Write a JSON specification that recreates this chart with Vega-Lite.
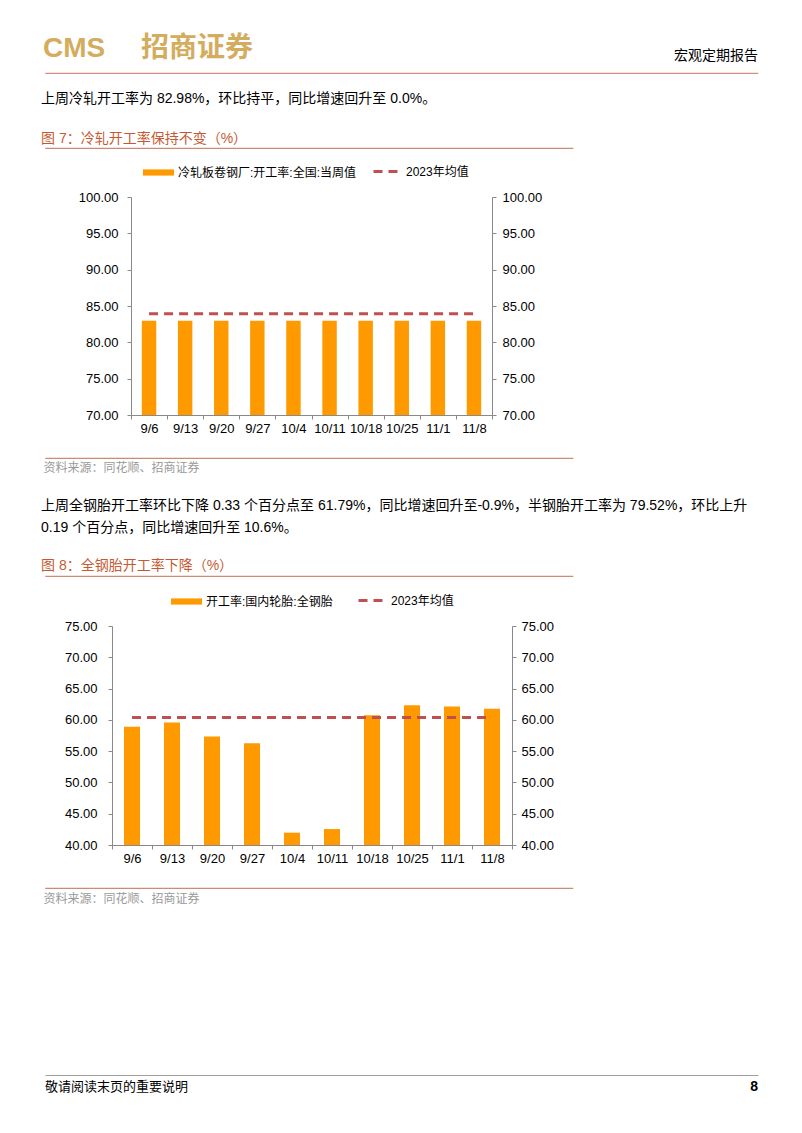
{
  "$schema": "https://vega.github.io/schema/vega-lite/v6.json",
  "background": "white",
  "padding": {"left": 40, "top": 34, "right": 0, "bottom": 0},
  "spacing": 16,
  "config": {
    "font": "'Liberation Sans', 'Noto Sans CJK SC', sans-serif",
    "view": {"stroke": null},
    "axis": {"grid": false, "labelColor": "#000000", "labelFontSize": 13, "domainColor": "#898989", "tickColor": "#898989", "tickSize": 4, "titleFontWeight": "normal"},
    "legend": {"labelFontSize": 12, "labelColor": "#000000", "padding": 0, "labelLimit": 0}
  },
  "resolve": {"scale": {"color": "independent", "strokeDash": "independent"}, "legend": {"color": "independent", "strokeDash": "independent"}},
  "vconcat": [
    {
      "width": 713,
      "height": 1,
      "view": {"stroke": "#DC8A80", "strokeWidth": 1.2, "strokeDash": [713, 100000]},
      "data": {"values": [{"t": "宏观定期报告"}]},
      "title": {"text": "CMS\u3000  招商证券", "anchor": "start", "dx": -2, "dy": 14, "offset": 0, "fontSize": 28, "fontWeight": "bold", "color": "#D4AC5E"},
      "mark": {"type": "text", "align": "right", "baseline": "bottom", "dy": -10, "fontSize": 14, "color": "#000000"},
      "encoding": {
        "text": {"field": "t", "type": "nominal"},
        "x": {"value": "width"},
        "y": {"value": 0}
      }
    },
    {
      "spacing": 24,
      "resolve": {"scale": {"color": "independent", "strokeDash": "independent"}, "legend": {"color": "independent", "strokeDash": "independent"}},
      "vconcat": [
        {
          "width": 528,
          "height": 310,
          "view": {"stroke": "#CF8A72", "strokeWidth": 1.2, "strokeDash": [528, 310]},
          "data": {"values": [
            {"d": "9/6", "v": 82.98, "avg": 83.94},
            {"d": "9/13", "v": 82.98, "avg": 83.94},
            {"d": "9/20", "v": 82.98, "avg": 83.94},
            {"d": "9/27", "v": 82.98, "avg": 83.94},
            {"d": "10/4", "v": 82.98, "avg": 83.94},
            {"d": "10/11", "v": 82.98, "avg": 83.94},
            {"d": "10/18", "v": 82.98, "avg": 83.94},
            {"d": "10/25", "v": 82.98, "avg": 83.94},
            {"d": "11/1", "v": 82.98, "avg": 83.94},
            {"d": "11/8", "v": 82.98, "avg": 83.94}
          ]},
          "title": {"text": "上周冷轧开工率为 82.98%，环比持平，同比增速回升至 0.0%。", "subtitle": "图 7：冷轧开工率保持不变（%）", "anchor": "start", "dx": -2, "offset": 2, "fontSize": 14, "fontWeight": "normal", "color": "#000000", "subtitleFontSize": 14, "subtitleColor": "#C55A32", "subtitlePadding": 26},
          "layer": [
            {
              "mark": {"type": "bar", "width": {"band": 0.4}, "color": "#FF9900"},
              "encoding": {
                "x": {"field": "d", "type": "nominal", "sort": null, "scale": {"range": [86, 447], "paddingInner": 0, "paddingOuter": 0},
                  "axis": {"orient": "bottom", "offset": -43, "labelAngle": 0, "tickBand": "extent", "labelPadding": 3,
                    "title": "资料来源：同花顺、招商证券", "titleX": -2, "titleY": 47, "titleAlign": "left", "titleBaseline": "top", "titleFontSize": 12, "titleColor": "#9A9A9A", "titleFontWeight": "normal"}},
                "y": {"field": "v", "type": "quantitative", "scale": {"domain": [70, 100], "range": [267, 49], "zero": false, "nice": false},
                  "axis": {"orient": "left", "offset": -86, "values": [70, 75, 80, 85, 90, 95, 100], "format": ".2f", "title": null, "labelPadding": 9}},
                "y2": {"datum": 70},
                "color": {"datum": "冷轧板卷钢厂:开工率:全国:当周值", "type": "nominal", "scale": {"range": ["#FF9900"]},
                  "legend": {"orient": "none", "legendX": 98, "legendY": 9, "title": null, "direction": "horizontal", "symbolType": "M-1,-0.2H1V0.2H-1Z", "symbolSize": 961, "symbolStrokeWidth": 0, "labelOffset": 4}}
              }
            },
            {
              "mark": {"type": "line", "color": "#C0504D", "strokeWidth": 3},
              "encoding": {
                "x": {"field": "d", "type": "nominal", "sort": null},
                "y": {"field": "avg", "type": "quantitative", "scale": {"domain": [70, 100], "range": [267, 49], "zero": false, "nice": false},
                  "axis": {"orient": "right", "offset": -81, "values": [70, 75, 80, 85, 90, 95, 100], "format": ".2f", "title": null, "labelPadding": 6}},
                "strokeDash": {"datum": "2023年均值", "type": "nominal", "scale": {"range": [[9, 6]]},
                  "legend": {"orient": "none", "legendX": 327, "legendY": 9, "title": null, "direction": "horizontal", "symbolType": "stroke", "symbolSize": 676, "symbolStrokeWidth": 3, "symbolStrokeColor": "#C0504D", "labelOffset": 5}}
              }
            }
          ],
          "resolve": {"scale": {"y": "independent"}}
        },
        {
          "width": 528,
          "height": 312,
          "view": {"stroke": "#CF8A72", "strokeWidth": 1.2, "strokeDash": [528, 312]},
          "data": {"values": [
            {"d": "9/6", "v": 58.88, "avg": 60.37},
            {"d": "9/13", "v": 59.57, "avg": 60.37},
            {"d": "9/20", "v": 57.34, "avg": 60.37},
            {"d": "9/27", "v": 56.28, "avg": 60.37},
            {"d": "10/4", "v": 41.97, "avg": 60.37},
            {"d": "10/11", "v": 42.55, "avg": 60.37},
            {"d": "10/18", "v": 60.74, "avg": 60.37},
            {"d": "10/25", "v": 62.34, "avg": 60.37},
            {"d": "11/1", "v": 62.12, "avg": 60.37},
            {"d": "11/8", "v": 61.79, "avg": 60.37}
          ]},
          "title": {"text": ["上周全钢胎开工率环比下降 0.33 个百分点至 61.79%，同比增速回升至-0.9%，半钢胎开工率为 79.52%，环比上升", "0.19 个百分点，同比增速回升至 10.6%。"], "subtitle": "图 8：全钢胎开工率下降（%）", "anchor": "start", "dx": -2, "offset": 3, "fontSize": 14, "fontWeight": "normal", "color": "#000000", "lineHeight": 22, "subtitleFontSize": 14, "subtitleColor": "#C55A32", "subtitlePadding": 24},
          "layer": [
            {
              "mark": {"type": "bar", "width": {"band": 0.4}, "color": "#FF9900"},
              "encoding": {
                "x": {"field": "d", "type": "nominal", "sort": null, "scale": {"range": [67, 467], "paddingInner": 0, "paddingOuter": 0},
                  "axis": {"orient": "bottom", "offset": -43, "labelAngle": 0, "tickBand": "extent", "labelPadding": 3,
                    "title": "资料来源：同花顺、招商证券", "titleX": -2, "titleY": 48, "titleAlign": "left", "titleBaseline": "top", "titleFontSize": 12, "titleColor": "#9A9A9A", "titleFontWeight": "normal"}},
                "y": {"field": "v", "type": "quantitative", "scale": {"domain": [40, 75], "range": [269, 50], "zero": false, "nice": false},
                  "axis": {"orient": "left", "offset": -67, "values": [40, 45, 50, 55, 60, 65, 70, 75], "format": ".2f", "title": null, "labelPadding": 11}},
                "y2": {"datum": 40},
                "color": {"datum": "开工率:国内轮胎:全钢胎", "type": "nominal", "scale": {"range": ["#FF9900"]},
                  "legend": {"orient": "none", "legendX": 126, "legendY": 10, "title": null, "direction": "horizontal", "symbolType": "M-1,-0.2H1V0.2H-1Z", "symbolSize": 961, "symbolStrokeWidth": 0, "labelOffset": 4}}
              }
            },
            {
              "mark": {"type": "line", "color": "#C0504D", "strokeWidth": 3},
              "encoding": {
                "x": {"field": "d", "type": "nominal", "sort": null},
                "y": {"field": "avg", "type": "quantitative", "scale": {"domain": [40, 75], "range": [269, 50], "zero": false, "nice": false},
                  "axis": {"orient": "right", "offset": -61, "values": [40, 45, 50, 55, 60, 65, 70, 75], "format": ".2f", "title": null, "labelPadding": 5}},
                "strokeDash": {"datum": "2023年均值", "type": "nominal", "scale": {"range": [[9, 6]]},
                  "legend": {"orient": "none", "legendX": 312, "legendY": 10, "title": null, "direction": "horizontal", "symbolType": "stroke", "symbolSize": 676, "symbolStrokeWidth": 3, "symbolStrokeColor": "#C0504D", "labelOffset": 5}}
              }
            }
          ],
          "resolve": {"scale": {"y": "independent"}}
        }
      ]
    },
    {
      "width": 713,
      "height": 153,
      "view": {"stroke": "#A0A0A0", "strokeWidth": 1, "strokeDash": [0, 866, 713, 153]},
      "data": {"values": [{"a": "敬请阅读末页的重要说明", "b": "8"}]},
      "layer": [
        {
          "mark": {"type": "text", "align": "left", "baseline": "top", "dy": 6, "fontSize": 13, "color": "#000000"},
          "encoding": {"text": {"field": "a", "type": "nominal"}, "x": {"value": 0}, "y": {"value": "height"}}
        },
        {
          "mark": {"type": "text", "align": "right", "baseline": "top", "dy": 5, "fontSize": 14, "fontWeight": "bold", "color": "#000000"},
          "encoding": {"text": {"field": "b", "type": "nominal"}, "x": {"value": "width"}, "y": {"value": "height"}}
        }
      ]
    }
  ]
}
